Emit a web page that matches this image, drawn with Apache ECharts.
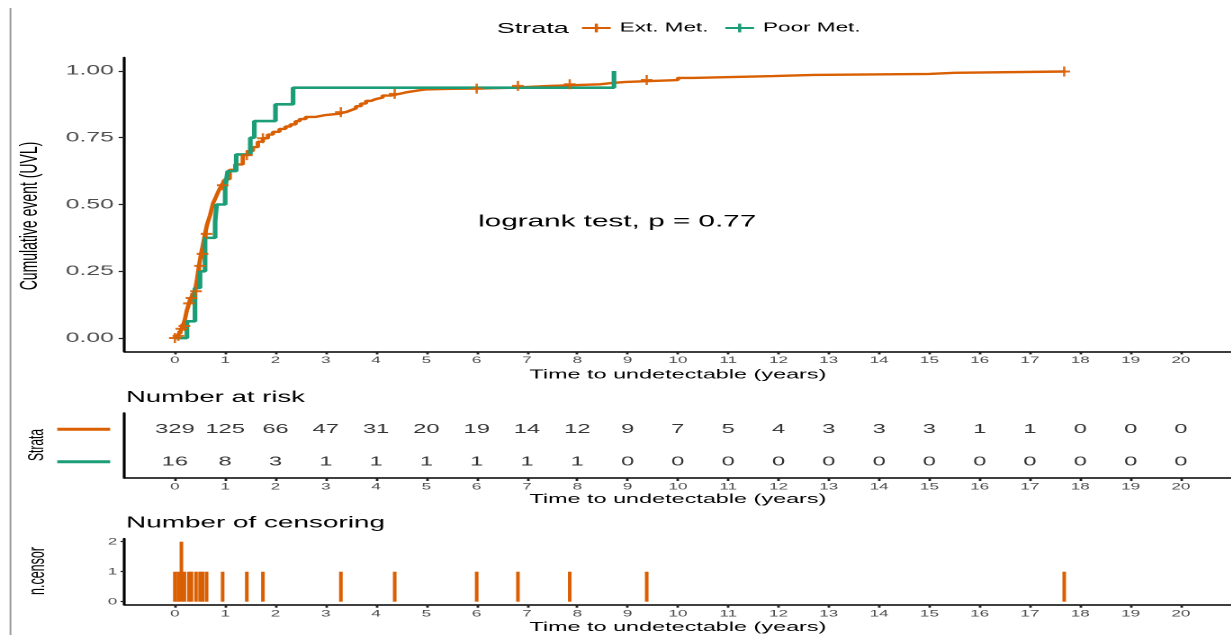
<!DOCTYPE html>
<html><head><meta charset="utf-8">
<script src="https://cdn.jsdelivr.net/npm/echarts@6/dist/echarts.min.js"></script>
<style>
html,body{margin:0;padding:0;background:#fff;overflow:hidden;width:1231px;height:635px}
#c{width:683.9px;height:635px;transform:scaleX(1.8);transform-origin:0 0}
</style>
</head><body><div id="c"></div>
<script>
// ---- data ----
const extTimes = [0, 0.05, 0.1, 0.13, 0.16, 0.2, 0.24, 0.28, 0.32, 0.36, 0.4, 0.44, 0.48, 0.52, 0.56, 0.6, 0.64, 0.7, 0.76, 0.82, 0.88, 0.93, 1.0, 1.09, 1.2, 1.35, 1.45, 1.55, 1.65, 1.75, 1.85, 1.95, 2.08, 2.2, 2.3, 2.4, 2.48, 2.6, 2.8, 3.0, 3.27, 3.4, 3.5, 3.6, 3.7, 3.8, 3.9, 4.0, 4.13, 4.3, 4.46, 4.6, 4.8, 5.0, 5.5, 6.05, 6.65, 7.45, 8.45, 8.7, 8.97, 10.0, 10.3, 11.9, 12.7, 15.0, 15.5, 17.7];
const extCum   = [0, 0.008, 0.02, 0.035, 0.045, 0.07, 0.105, 0.13, 0.15, 0.165, 0.175, 0.22, 0.27, 0.315, 0.35, 0.39, 0.425, 0.46, 0.505, 0.53, 0.555, 0.572, 0.595, 0.63, 0.65, 0.685, 0.70, 0.715, 0.735, 0.748, 0.762, 0.772, 0.783, 0.792, 0.80, 0.812, 0.82, 0.828, 0.835, 0.84, 0.846, 0.853, 0.86, 0.868, 0.878, 0.888, 0.895, 0.90, 0.908, 0.914, 0.92, 0.926, 0.931, 0.933, 0.934, 0.937, 0.944, 0.95, 0.955, 0.959, 0.966, 0.974, 0.981, 0.985, 0.989, 0.993, 0.998, 0.998];
const poorTimes = [0, 0.24, 0.4, 0.5, 0.6, 0.8, 0.83, 1.0, 1.05, 1.22, 1.5, 1.58, 2.0, 2.35, 8.73];
const poorCum   = [0, 0.0625, 0.1875, 0.25, 0.375, 0.4375, 0.5, 0.5625, 0.625, 0.6875, 0.75, 0.8125, 0.875, 0.9375, 1.0];
const censorTimes  = [0, 0.07, 0.13, 0.19, 0.28, 0.33, 0.42, 0.5, 0.55, 0.63, 0.95, 1.43, 1.75, 3.3, 4.37, 6.0, 6.82, 7.85, 9.38, 17.68];
const censorCounts = [1, 1, 2, 1, 1, 1, 1, 1, 1, 1, 1, 1, 1, 1, 1, 1, 1, 1, 1, 1];
const riskTimes = [0,1,2,3,4,5,6,7,8,9,10,11,12,13,14,15,16,17,18,19,20];
const riskExt  = [329,125,66,47,31,20,19,14,12,9,7,5,4,3,3,3,1,1,0,0,0];
const riskPoor = [16,8,3,1,1,1,1,1,1,0,0,0,0,0,0,0,0,0,0,0,0];
const xTicks = [0,1,2,3,4,5,6,7,8,9,10,11,12,13,14,15,16,17,18,19,20];
const yTicks = [0,0.25,0.5,0.75,1];
const censorTicks = [0,1,2];
const strata = ['Ext. Met.','Poor Met.'];
const colors = {'Ext. Met.':'#D95F02','Poor Met.':'#1B9E77'};

// ---- helpers ----
const FONT = "'Liberation Sans', Arial, sans-serif";
const PLUS = 'path://M0,4L4,4L4,0L6,0L6,4L10,4L10,6L6,6L6,10L4,10L4,6L0,6Z';
function stepAt(times, vals, t){ let v = vals[0]; for (let i=0;i<times.length;i++){ if (times[i] <= t) v = vals[i]; } return v; }
const zip = (a,b)=>a.map((x,i)=>[x,b[i]]);

function xAxisCfg(idx, gap){
  return {
    type:'value', gridIndex: idx, min:-1, max:21,
    axisLine:{show:true, onZero:false, lineStyle:{color:'#000', width:1.5}},
    axisTick:{show:true, customValues:xTicks, length:3, lineStyle:{color:'#222', width:1.4}},
    axisLabel:{customValues:xTicks, fontSize:9.5, color:'#4D4D4D', margin:4, fontFamily:FONT},
    splitLine:{show:false},
    name:'Time to undetectable (years)',
    nameLocation:'middle', nameGap: gap,
    nameTextStyle:{fontSize:13, color:'#000', fontFamily:FONT}
  };
}

const chart = echarts.init(document.getElementById('c'), null, {devicePixelRatio:2});
const option = {
  animation:false,
  backgroundColor:'#fff',
  grid:[
    {left:69.2, width:616, top:57.6, height:293.8},
    {left:69.2, width:616, top:413, height:65},
    {left:69.2, width:616, top:538.7, height:66}
  ],
  legend:{
    left:322.3, top:21.5, padding:0, itemWidth:16, itemHeight:11, itemGap:8.3,
    data:strata, textStyle:{fontSize:12.5, color:'#000', fontFamily:FONT}
  },
  xAxis:[xAxisCfg(0,17), xAxisCfg(1,15), xAxisCfg(2,16)],
  yAxis:[
    {type:'value', gridIndex:0, min:-0.05, max:1.05,
     axisLine:{show:true, onZero:false, lineStyle:{color:'#000', width:1.6}},
     axisTick:{show:true, customValues:yTicks, length:3.3, lineStyle:{color:'#222', width:1.2}},
     axisLabel:{customValues:yTicks, formatter:v=>v.toFixed(2), fontSize:13.7, color:'#4D4D4D', margin:6, fontFamily:FONT},
     splitLine:{show:false}},
    {type:'category', gridIndex:1, data:['Poor Met.','Ext. Met.'],
     axisLine:{show:true, onZero:false, lineStyle:{color:'#000', width:1.6}},
     axisTick:{show:false},
     axisLabel:{margin:8, formatter:v=> v==='Ext. Met.' ? '{e| }' : '{p| }',
       rich:{e:{backgroundColor:colors['Ext. Met.'], width:29.4, height:3, lineHeight:3},
             p:{backgroundColor:colors['Poor Met.'], width:29.4, height:3, lineHeight:3}}},
     splitLine:{show:false}},
    {type:'value', gridIndex:2, min:-0.1, max:2.1,
     axisLine:{show:true, onZero:false, lineStyle:{color:'#000', width:1.6}},
     axisTick:{show:true, customValues:censorTicks, length:2.2, lineStyle:{color:'#222', width:1.2}},
     axisLabel:{customValues:censorTicks, fontSize:9.5, color:'#4D4D4D', margin:4, fontFamily:FONT},
     splitLine:{show:false}}
  ],
  graphic:[
    {type:'line', shape:{x1:5.8,y1:8,x2:5.8,y2:635}, style:{stroke:'#999', lineWidth:1}},
    {type:'text', x:276, y:29, style:{text:'Strata', font:'15px '+FONT, fill:'#000', textAlign:'left', textVerticalAlign:'middle'}},
    {type:'text', x:265.6, y:222, style:{text:'logrank test, p = 0.77', font:'16.5px '+FONT, fill:'#000', textAlign:'left', textVerticalAlign:'middle'}},
    {type:'text', x:70, y:398, style:{text:'Number at risk', font:'15.3px '+FONT, fill:'#000', textAlign:'left', textVerticalAlign:'middle'}},
    {type:'text', x:70, y:523, style:{text:'Number of censoring', font:'15.5px '+FONT, fill:'#000', textAlign:'left', textVerticalAlign:'middle'}},
    {type:'text', x:16.7, y:216, rotation:Math.PI/2, style:{text:'Cumulative event (UVL)', font:'14px '+FONT, fill:'#000', textAlign:'center', textVerticalAlign:'middle'}},
    {type:'text', x:20.6, y:445, rotation:Math.PI/2, style:{text:'Strata', font:'12px '+FONT, fill:'#000', textAlign:'center', textVerticalAlign:'middle'}},
    {type:'text', x:21.1, y:571, rotation:Math.PI/2, style:{text:'n.censor', font:'12.5px '+FONT, fill:'#000', textAlign:'center', textVerticalAlign:'middle'}}
  ],
  series:[
    {name:'Ext. Met.', type:'line', xAxisIndex:0, yAxisIndex:0, step:'end', showSymbol:false, symbol:PLUS, symbolSize:[7,10],
     data:zip(extTimes, extCum), lineStyle:{color:colors['Ext. Met.'], width:2.4}, itemStyle:{color:colors['Ext. Met.']}, z:2},
    {name:'Poor Met.', type:'line', xAxisIndex:0, yAxisIndex:0, step:'end', showSymbol:false, symbol:PLUS, symbolSize:[7,10],
     data:zip(poorTimes, poorCum), lineStyle:{color:colors['Poor Met.'], width:2.6}, itemStyle:{color:colors['Poor Met.']}, z:3},
    {type:'scatter', xAxisIndex:0, yAxisIndex:0, symbol:PLUS, symbolSize:[6.5,10], silent:true,
     data:censorTimes.map(t=>[t, stepAt(extTimes, extCum, t)]), itemStyle:{color:colors['Ext. Met.'], opacity:0.9}, z:4},
    {type:'scatter', xAxisIndex:1, yAxisIndex:1, symbolSize:1, silent:true, itemStyle:{color:'rgba(0,0,0,0)'},
     data:riskTimes.map((t,i)=>[t,'Ext. Met.',riskExt[i]]),
     label:{show:true, position:'inside', formatter:p=>String(p.data[2]), fontSize:13.2, color:'#000', fontFamily:FONT}},
    {type:'scatter', xAxisIndex:1, yAxisIndex:1, symbolSize:1, silent:true, itemStyle:{color:'rgba(0,0,0,0)'},
     data:riskTimes.map((t,i)=>[t,'Poor Met.',riskPoor[i]]),
     label:{show:true, position:'inside', formatter:p=>String(p.data[2]), fontSize:13.2, color:'#000', fontFamily:FONT}},
    {type:'bar', xAxisIndex:2, yAxisIndex:2, barWidth:2, silent:true,
     data:zip(censorTimes, censorCounts), itemStyle:{color:colors['Ext. Met.']}}
  ]
};
chart.setOption(option);
</script>
</body></html>
